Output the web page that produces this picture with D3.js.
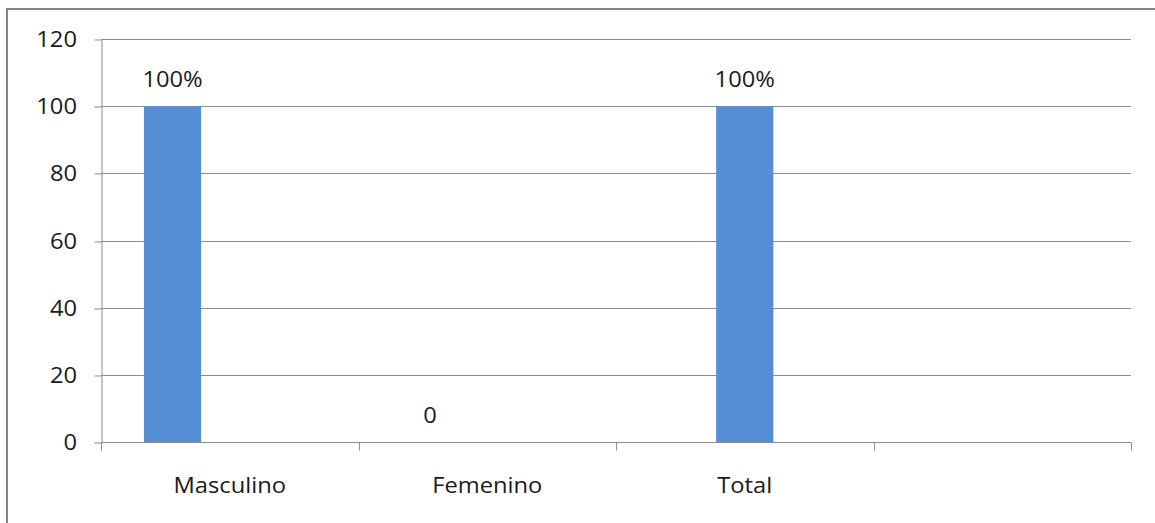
<!DOCTYPE html>
<html><head><meta charset="utf-8">
<script src="https://cdn.jsdelivr.net/npm/d3@7"></script>
<style>body{margin:0;background:#fff}svg{display:block}text{font-family:"Open Sans",sans-serif;fill:#1a1a1a}</style>
</head><body>
<script>
const categories = ["Masculino","Femenino","Total",""];
const seriesKeys = ["s1","s2","s3"];
const s1Values = [100, 0, null, null];
const s2Values = [null, null, 100, null];
const s3Values = [null, null, null, null];
const s1Labels = ["100%","0",null,null];
const s2Labels = [null,null,"100%",null];
const s3Labels = [null,null,null,null];
const yTicks = [0,20,40,60,80,100,120];

const W=1155,H=523;
const FS=21, SX=1.13;
const m={l:101,r:24,t:39,b:81};
const svg=d3.select("body").append("svg").attr("width",W).attr("height",H);
svg.append("rect").attr("x",7).attr("y",9).attr("width",1160).attr("height",530)
  .attr("fill","none").attr("stroke","#858585").attr("stroke-width",2);

const x=d3.scaleBand().domain(categories.map((c,i)=>i)).range([m.l,W-m.r]).padding(0);
const xi=d3.scaleBand().domain(seriesKeys).range([0,x.bandwidth()]).paddingInner(0).paddingOuter(0.75);
const y=d3.scaleLinear().domain([0,120]).range([H-m.b,m.t]);

function label(sel,tx,ty,anchor,txt){
  return sel.append("text").attr("transform",`translate(${tx},${ty}) scale(${SX},1)`)
    .attr("text-anchor",anchor).attr("font-size",FS).text(txt);
}

const g=svg.append("g");
g.selectAll("line.grid").data(yTicks.filter(d=>d>0)).join("line")
  .attr("x1",m.l).attr("x2",W-m.r).attr("y1",d=>Math.round(y(d))+0.5).attr("y2",d=>Math.round(y(d))+0.5)
  .attr("stroke","#8c8c8c").attr("stroke-width",1);

// y axis
const ya=svg.append("g").attr("transform",`translate(${m.l+0.5},0)`)
  .call(d3.axisLeft(y).tickValues(yTicks).tickSize(7).tickSizeOuter(0));
ya.select(".domain").attr("stroke","#8c8c8c");
ya.selectAll(".tick line").attr("stroke","#8c8c8c").attr("transform",d=>`translate(0,${Math.round(y(d))+0.5-y(d)})`);
ya.selectAll(".tick text").attr("x",0).attr("dy",null).attr("font-size",FS).attr("font-family","Open Sans")
  .attr("fill","#1a1a1a").attr("transform",`translate(-24.5,7.5) scale(${SX},1)`);

// bars
const series=[{k:"s1",v:s1Values,l:s1Labels},{k:"s2",v:s2Values,l:s2Labels},{k:"s3",v:s3Values,l:s3Labels}];
series.forEach(s=>{
  s.v.forEach((v,i)=>{
    if(v==null) return;
    const bx=x(i)+xi(s.k);
    g.append("rect").attr("x",bx).attr("y",y(v)).attr("width",xi.bandwidth()).attr("height",y(0)-y(v)).attr("fill","#558ed5");
    if(s.l[i]!=null) label(g,bx+xi.bandwidth()/2,y(v)-19,"middle",s.l[i]);
  });
});

// x axis
const xa=svg.append("g").attr("transform",`translate(0,${Math.round(y(0))+0.5})`);
xa.append("line").attr("x1",m.l).attr("x2",W-m.r).attr("stroke","#8c8c8c");
const edges=d3.range(categories.length+1).map(i=>m.l+i*x.step());
xa.selectAll("line.t").data(edges).join("line").attr("x1",d=>Math.round(d)+0.5).attr("x2",d=>Math.round(d)+0.5)
  .attr("y1",0).attr("y2",8).attr("stroke","#8c8c8c");
categories.forEach((c,i)=>{ if(c) label(xa,x(i)+x.bandwidth()/2,50,"middle",c); });
</script>
</body></html>
